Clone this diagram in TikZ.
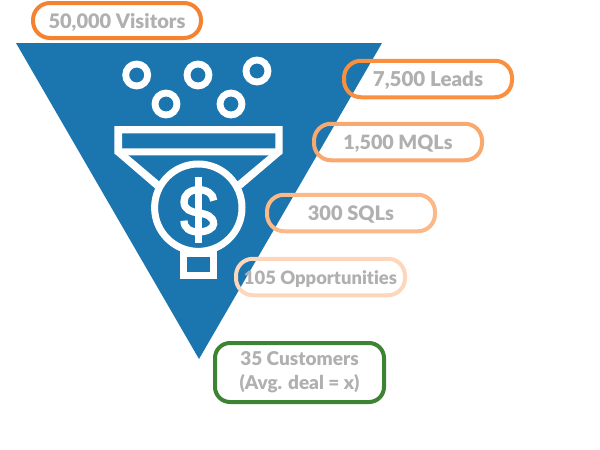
\documentclass[tikz,border=0pt]{standalone}
\usepackage{fontspec}
\setmainfont{Lato}[BoldFont={Lato Black},Ligatures=NoCommon]
\definecolor{fblue}{HTML}{1B75AE}
\definecolor{tgrey}{HTML}{B0B0B0}
\definecolor{oa}{HTML}{F58231}
\definecolor{ob}{HTML}{F98F3F}
\definecolor{oc}{HTML}{F9A970}
\definecolor{od}{HTML}{FBB888}
\definecolor{oe}{HTML}{FDD6BC}
\definecolor{gr}{HTML}{3C8434}
\tikzset{
  stage/.style={draw=#1,line width=4pt,rounded corners=17pt,align=center,inner sep=0pt,
    text=tgrey,font=\fontsize{19}{24}\selectfont\bfseries},
  fsize/.style={font=\fontsize{#1}{24}\selectfont\bfseries},
  oneline/.style={text height=15.4pt,text depth=0pt},
  iconline/.style={draw=white,line width=7pt},
  ball/.style={draw=white,line width=6.8pt,circle,minimum size=22pt,inner sep=0pt}
}
\begin{document}
\begin{tikzpicture}[x=1pt,y=-1pt]
\useasboundingbox (0,0) rectangle (600,450);
\fill[fblue] (16,43) -- (382,43) -- (199,359) -- cycle;
% balls
\node[ball] (b1) at (136.7,75) {};
\node[ball] (b2) at (198,75) {};
\node[ball] (b3) at (257,71) {};
\node[ball] (b4) at (166,104) {};
\node[ball] (b5) at (231,104) {};
% funnel
\fill[white,even odd rule] (114.3,126) -- (282.7,126) -- (282.7,153.3) -- (280,155.3) -- (117,155.3) -- (114.3,153.3) -- cycle
  (122,133.3) rectangle (275.3,148.3);
\fill[white] (114.3,153.3) -- (155,188.3) -- (160.7,182.7) -- (128.3,155.3) -- cycle;
\fill[white] (282.7,153.3) -- (241.7,188.3) -- (236,182.7) -- (268.7,155.3) -- cycle;
\draw[iconline] (198.3,207.7) circle (43.7);
\draw[iconline] (183.7,253.7) rectangle (213.3,275.7);
% dollar
\begin{scope}[shift={(100,50)},x=0.3333pt,y=-0.3333pt]
\draw[iconline,line width=7.3pt] (296,382) -- (296,578);
\draw[iconline,line width=7.3pt,line cap=butt]
  (341,452) .. controls (341,432) and (320,419) .. (296,419)
  .. controls (270,419) and (252,434) .. (252,455)
  .. controls (252,480) and (275,486) .. (296,489)
  .. controls (320,492) and (341,500) .. (341,522)
  .. controls (341,535) and (320,546) .. (296,546)
  .. controls (270,546) and (252,535) .. (252,512);
\end{scope}
% stages
\node[stage=oa,fsize=20,oneline,minimum width=168pt,minimum height=35pt] (s1) at (117,20.5) {50,000 Visitors};
\node[stage=ob,fsize=20.5,oneline,minimum width=168pt,minimum height=36.5pt] (s2) at (428,79) {7,500 Leads};
\node[stage=oc,fsize=19.7,oneline,minimum width=168pt,minimum height=36.5pt] (s3) at (398,142) {1,500 MQLs};
\node[stage=od,fsize=20,oneline,minimum width=168pt,minimum height=36.5pt] (s4) at (351,213) {300 SQLs};
\node[stage=oe,fsize=18.4,oneline,minimum width=169pt,minimum height=36.5pt] (s5) at (320.5,277) {105 Opportunities};
\node[stage=gr,rounded corners=15pt,minimum width=169pt,minimum height=59pt] (s6) at (299.5,372.5) {35 Customers\\(Avg. deal = x)};
\end{tikzpicture}
\end{document}
